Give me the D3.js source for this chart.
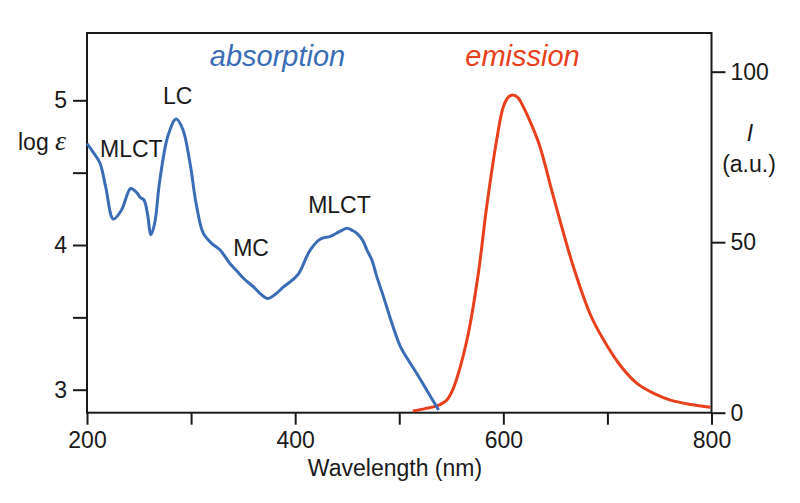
<!DOCTYPE html>
<html><head><meta charset="utf-8">
<script src="https://cdn.jsdelivr.net/npm/d3@7"></script>
<style>body{margin:0;background:#fff}svg{display:block}text{font-family:"Liberation Sans",Arial,Helvetica,sans-serif;fill:#1a1a1a}</style>
</head><body><svg id="c" width="800" height="503"></svg>
<script>
// Absorption spectrum: wavelength (nm) vs log epsilon
const absWl  = [200, 206, 212.5, 218, 225.3, 233, 242, 248, 251, 254.8, 258, 261.5, 265, 270, 278, 285.6, 292, 299, 305, 311.8, 320, 327.9, 337.5, 344, 350.3, 360, 367, 373.4, 381, 388.8, 396, 403.2, 414.4, 424, 433.7, 442, 449.7, 455, 459.3, 465, 469, 473.7, 478.5, 485, 492, 501, 510, 517, 527, 537.8];
const absLog = [4.70, 4.64, 4.565, 4.40, 4.18, 4.24, 4.39, 4.36, 4.33, 4.31, 4.22, 4.07, 4.15, 4.45, 4.76, 4.87, 4.80, 4.565, 4.28, 4.08, 4.01, 3.965, 3.87, 3.82, 3.77, 3.71, 3.66, 3.63, 3.66, 3.71, 3.75, 3.80, 3.965, 4.04, 4.06, 4.09, 4.115, 4.10, 4.08, 4.03, 3.965, 3.896, 3.78, 3.64, 3.48, 3.30, 3.19, 3.11, 2.99, 2.86];
// Emission spectrum: wavelength (nm) vs intensity (a.u.)
const emWl = [513, 525, 536, 545.6, 551, 556.8, 566.4, 576, 584, 593.6, 600, 605, 609, 614, 619.2, 627, 635.2, 648, 667.3, 684, 696.4, 712, 728.4, 745, 760.6, 780, 799];
const emI  = [0.5, 1.2, 2.0, 3.7, 6.5, 11.5, 23.3, 40.9, 60.4, 80, 89.7, 92.6, 93.2, 92.4, 89.7, 84.5, 78, 63.5, 42.8, 28.5, 21.3, 14, 8.6, 5.6, 3.7, 2.4, 1.6];
const xTicks = [200, 300, 400, 500, 600, 700, 800];
const xTickLabels = ["200", "", "400", "", "600", "", "800"];
const leftTicks = [3, 3.5, 4, 4.5, 5];
const leftTickLabels = ["3", "", "4", "", "5"];
const rightTicks = [0, 50, 100];
const peakLabels = [
  {text: "MLCT", wl: 212.5, v: 4.608},
  {text: "LC", wl: 273.1, v: 4.972},
  {text: "MC", wl: 340.4, v: 3.924},
  {text: "MLCT", wl: 412.5, v: 4.219}
];

const svg = d3.select("#c");
const L = 87, R = 711.5, T = 33, B = 412.7;
const blue = "#3a6db5", red = "#e8401c";
const FS = 23;
const x = d3.scaleLinear().domain([200, 800]).range([L, R]);
const yL = d3.scaleLinear().domain([3, 5]).range([389.7, 100.3]);
const yR = d3.scaleLinear().domain([0, 100]).range([B, 71.7]);

// frame
svg.append("rect").attr("x", L).attr("y", T).attr("width", R - L).attr("height", B - T)
  .attr("fill", "none").attr("stroke", "#1a1a1a").attr("stroke-width", 2);

// bottom axis
const gx = svg.append("g").attr("transform", `translate(0,${B})`)
  .call(d3.axisBottom(x).tickValues(xTicks).tickSize(12).tickPadding(7)
    .tickFormat((d, i) => xTickLabels[i]));
// left axis
const gl = svg.append("g").attr("transform", `translate(${L},0)`)
  .call(d3.axisLeft(yL).tickValues(leftTicks).tickSize(14).tickPadding(6)
    .tickFormat((d, i) => leftTickLabels[i]));
// right axis
const gr = svg.append("g").attr("transform", `translate(${R},0)`)
  .call(d3.axisRight(yR).tickValues(rightTicks).tickSize(14).tickPadding(5).tickFormat(d3.format("d")));
[gx, gl, gr].forEach(g => {
  g.select(".domain").remove();
  g.selectAll(".tick line").attr("stroke", "#1a1a1a").attr("stroke-width", 2);
  g.selectAll(".tick text").attr("font-family", '"Liberation Sans",Arial,sans-serif')
    .attr("font-size", FS).attr("fill", "#1a1a1a");
});

// curves
const absData = absWl.map((w, i) => [w, absLog[i]]);
const emData = emWl.map((w, i) => [w, emI[i]]);
svg.append("path").datum(emData).attr("fill", "none").attr("stroke", red).attr("stroke-width", 3)
  .attr("d", d3.line().x(d => x(d[0])).y(d => yR(d[1])).curve(d3.curveCatmullRom));
svg.append("path").datum(absData).attr("fill", "none").attr("stroke", blue).attr("stroke-width", 3)
  .attr("d", d3.line().x(d => x(d[0])).y(d => yL(d[1])).curve(d3.curveCatmullRom));

// texts
svg.append("text").attr("x", 277.5).attr("y", 66).attr("text-anchor", "middle")
  .attr("font-size", 29).attr("font-style", "italic").style("fill", blue).text("absorption");
svg.append("text").attr("x", 522.5).attr("y", 66).attr("text-anchor", "middle")
  .attr("font-size", 29).attr("font-style", "italic").style("fill", red).text("emission");

peakLabels.forEach(p => {
  svg.append("text").attr("x", x(p.wl)).attr("y", yL(p.v)).attr("font-size", FS).text(p.text);
});
// axis titles
const lt = svg.append("text").attr("x", 18).attr("y", 150).attr("font-size", FS);
lt.append("tspan").text("log ");
lt.append("tspan").attr("font-family", '"Liberation Serif","DejaVu Serif",serif').attr("font-style", "italic")
  .attr("font-size", 28).text("ε");
svg.append("text").attr("x", 750).attr("y", 141).attr("text-anchor", "middle").attr("font-size", FS)
  .attr("font-style", "italic").text("I");
svg.append("text").attr("x", 749).attr("y", 172).attr("text-anchor", "middle").attr("font-size", FS).text("(a.u.)");
svg.append("text").attr("x", 395).attr("y", 476).attr("text-anchor", "middle").attr("font-size", FS).text("Wavelength (nm)");
</script></body></html>
